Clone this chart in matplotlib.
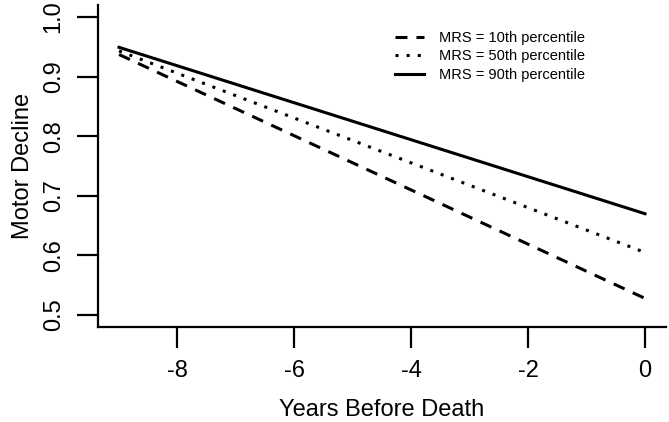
import numpy as np
import matplotlib
matplotlib.use("Agg")
from matplotlib import pyplot as plt

plt.rcParams['font.family'] = ['Liberation Sans', 'DejaVu Sans']
plt.rcParams['lines.scale_dashes'] = False
plt.rcParams['axes.unicode_minus'] = False

# valores
anos = [-9, 0]
mrs_10 = [0.937, 0.528]
mrs_50 = [0.943, 0.605]
mrs_90 = [0.949, 0.670]
rotulos = ["MRS = 10th percentile", "MRS = 50th percentile", "MRS = 90th percentile"]

W, H = 669, 422
fig = plt.figure(figsize=(W / 100, H / 100), dpi=100)
ax = fig.add_axes([98 / W, (H - 327) / H, (666 - 98) / W, (327 - 5) / H])

lw = 2.2
ax.plot(anos, mrs_10, color='black', lw=lw, linestyle=(0, (8.6, 6.5)), label=rotulos[0])
ax.plot(anos, mrs_50, color='black', lw=lw, linestyle=(0, (2.2, 5.8)), label=rotulos[1])
ax.plot(anos, mrs_90, color='black', lw=lw, linestyle='-', label=rotulos[2])

ax.set_xlim(-9.36, 0.36)
ax.set_ylim(0.48, 1.02)
ax.set_xticks([-8, -6, -4, -2, 0])
ax.set_yticks([0.5, 0.6, 0.7, 0.8, 0.9, 1.0])
ax.set_yticklabels(["0.5", "0.6", "0.7", "0.8", "0.9", "1.0"], rotation=90, va='center')

for lado in ['top', 'right']:
    ax.spines[lado].set_visible(False)
for lado in ['left', 'bottom']:
    ax.spines[lado].set_linewidth(1.6)

ax.tick_params(axis='both', direction='out', length=15, width=1.6, labelsize=17, color='black')
ax.tick_params(axis='x', pad=9)
ax.tick_params(axis='y', pad=9)

ax.set_xlabel("Years Before Death", fontsize=17, labelpad=12)
ax.set_ylabel("Motor Decline", fontsize=17, labelpad=6)

ax.legend(loc='upper left', bbox_to_anchor=(395 / W, 1 - 31 / H), bbox_transform=fig.transFigure,
          frameon=False, fontsize=10.5, handlelength=2.0, handletextpad=1.0,
          labelspacing=0.3, borderpad=0, borderaxespad=0)

fig.savefig("out.png", dpi=100)
